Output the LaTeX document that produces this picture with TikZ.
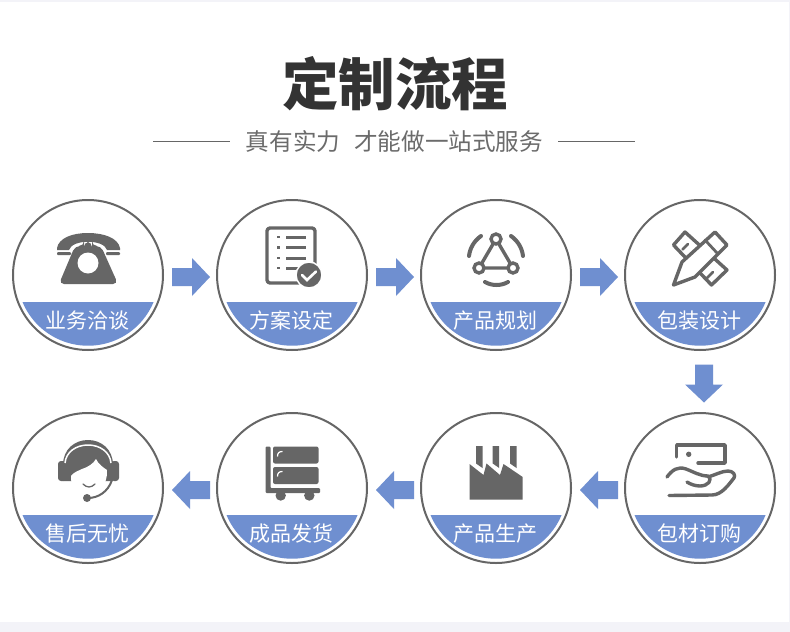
\documentclass[tikz,border=0pt]{standalone}
\usepackage{fontspec}
\setmainfont{Noto Sans CJK SC}
\usetikzlibrary{positioning}
\definecolor{steelblue}{HTML}{6F8FD0}
\definecolor{icongray}{HTML}{666666}
\definecolor{paleband}{HTML}{F3F3F8}
\tikzset{
    ring/.style = {circle, draw = icongray, line width = 2pt, fill = white, minimum size = 150pt, inner sep = 0pt},
    caption/.style = {text = white, font = \fontsize{21}{21}\selectfont, inner sep = 0pt},
    iconline/.style = {draw = icongray, line width = 3.4pt, line cap = round, line join = round}
}
% one step: ring, blue cap and its caption
\newcommand{\stepring}[5]{
    \node[ring] (#1) at (#2, #3) {};
    \fill[steelblue] (#2 - 65.5, #3 + #5) arc[start angle = 202.6, end angle = 337.4, x radius = 71, y radius = -71] -- cycle;
    \node[caption] (#1t) at (#2 - 0.5, #3 + #5 + 18.5) {#4};
}
% block arrow at a centre, turned by an angle
\newcommand{\blockarrow}[3]{
    \fill[steelblue, shift = {(#1, #2)}, rotate = #3] (-19, -9) -- (1, -9) -- (1, -19) -- (19, 0) -- (1, 19) -- (1, 9) -- (-19, 9) -- cycle;
}
\begin{document}
\begin{tikzpicture}[x = 1pt, y = -1pt]
    \useasboundingbox (0, 0) rectangle (790, 632);
    \fill[white] (0, 0) rectangle (790, 632);
    \fill[paleband] (0, 622) rectangle (790, 632);
    \fill[paleband] (0, 0) rectangle (790, 2);
    \fill[paleband] (788.5, 0) rectangle (790, 632);
    % heading
    \node[text = black!80, font = \fontsize{56.5}{56.5}\selectfont\bfseries, inner sep = 0pt] (title) at (395, 84) {定制流程};
    \node[text = black!58, font = \fontsize{23.6}{23.6}\selectfont, inner sep = 0pt] (subtitle) at (394.5, 141) {真有实力\hspace{14pt}才能做一站式服务};
    \coordinate (la) at (153, 141);
    \coordinate (lb) at (230, 141);
    \coordinate (ra) at (558, 141);
    \coordinate (rb) at (635, 141);
    \draw[icongray, line width = 0.9pt] (la) -- (lb);
    \draw[icongray, line width = 0.9pt] (ra) -- (rb);
    % steps
    \stepring{s1}{88}{275}{业务洽谈}{27}
    \stepring{s2}{292}{275}{方案设定}{27}
    \stepring{s3}{496}{275}{产品规划}{27}
    \stepring{s4}{700}{275}{包装设计}{27}
    \stepring{s5}{700}{488}{包材订购}{27}
    \stepring{s6}{496}{488}{产品生产}{27}
    \stepring{s7}{292}{488}{成品发货}{27}
    \stepring{s8}{88}{488}{售后无忧}{27}
    % arrows
    \foreach \x in {191, 395, 599}{
        \blockarrow{\x}{277}{0}
        \blockarrow{\x}{490}{180}
    }
    \blockarrow{704}{383.5}{-90}
    % telephone
    \fill[icongray] (57, 248) .. controls (59, 238) and (72, 233) .. (88, 233) .. controls (104, 233) and (118, 238) .. (120, 248) -- (120, 250) -- (107, 250) .. controls (104, 239) and (72, 239) .. (69, 250) -- (57, 250) -- cycle;
    \fill[icongray, rounded corners = 1pt] (57, 252) rectangle (71, 255);
    \fill[icongray, rounded corners = 1pt] (106, 252) rectangle (120, 255);
    \fill[icongray, rounded corners = 5pt] (84, 246) -- (84, 242) -- (92, 242) -- (92, 246) -- (101, 246) -- (118, 284) -- (59, 284) -- (75, 246) -- cycle;
    \fill[white] (88, 263) circle[radius = 10.5];
    % document
    \draw[iconline, rounded corners = 3pt] (267, 228) rectangle (315, 283);
    \foreach \y in {237, 247.5, 258}{
        \fill[icongray] (276.5, \y - 1.2) rectangle (280, \y + 1.2);
        \fill[icongray] (286, \y - 1.5) rectangle (306, \y + 1.5);
    }
    \fill[icongray] (276.5, 266.8) rectangle (280, 269.2);
    \fill[icongray] (286, 266.5) rectangle (300, 269.5);
    \fill[icongray, draw = white, line width = 1.5pt] (309, 275) circle[radius = 13];
    \draw[white, line width = 2.6pt, line cap = round] (302, 275) -- (307, 280) -- (316, 271.5);
    % network
    \draw[iconline] (496, 239) -- (479, 268) -- (513, 268) -- cycle;
    \foreach \x/\y in {496/239, 479/268, 513/268}{
        \draw[icongray, fill = white, line width = 3.4pt] (\x, \y) circle[radius = 5];
    }
    \draw[iconline, line width = 4pt] (469, 256) .. controls (470, 248) and (474, 241) .. (481, 236);
    \draw[iconline, line width = 4pt] (523, 256) .. controls (522, 248) and (518, 241) .. (511, 236);
    \draw[iconline, line width = 4pt] (485, 282) .. controls (492, 286) and (501, 286) .. (508, 282);
    % ruler and pencil
    \draw[iconline, fill = white] (685, 232) -- (673.5, 245) -- (711.5, 285) -- (727, 270) -- cycle;
    \draw[iconline, line width = 2.8pt] (682.5, 249.5) -- (688, 244);
    \draw[iconline, line width = 2.8pt] (707, 278) -- (713, 272);
    \draw[iconline, fill = white] (715, 232) -- (727, 245) -- (695, 277) -- (673.5, 285) -- (682, 262) -- cycle;
    \draw[iconline, line width = 2.8pt] (705, 240) -- (718, 254);
    % card and hand
    \draw[iconline] (676.7, 457) -- (676.7, 445) -- (725, 445) -- (725, 463) -- (698, 463);
    \fill[icongray] (688.7, 454.3) circle[radius = 2.7];
    \draw[iconline] (667, 477) .. controls (672, 470) and (678, 466) .. (686, 469) .. controls (694, 472) and (700, 476) .. (708, 476) .. controls (713, 480) and (708, 486) .. (700, 486) .. controls (695, 486) and (690, 484) .. (687, 482);
    \draw[iconline] (708, 477) .. controls (715, 475) and (722, 471) .. (728, 471) .. controls (733, 471) and (736, 475) .. (734, 478) .. controls (729, 484) and (722, 495) .. (712, 495) -- (669, 495.5);
    % factory
    \fill[icongray] (469.5, 464) -- (483.5, 475) -- (486.5, 463.5) -- (500, 475) -- (503.5, 464) -- (522.7, 477) -- (522.7, 499.5) -- (469.5, 499.5) -- cycle;
    \foreach \x in {476, 492.7, 510}{
        \fill[icongray] (\x, 446) -- (\x + 6.5, 446) -- (\x + 6.5, 468) -- (\x, 463.5) -- cycle;
    }
    % cart
    \fill[icongray, rounded corners = 1pt] (265.7, 446.5) -- (270.5, 446.5) -- (270.5, 488) -- (320, 488) -- (320, 493) -- (265.7, 493) -- cycle;
    \fill[icongray, rounded corners = 2pt] (273, 446.5) rectangle (318.5, 463.5);
    \fill[icongray, rounded corners = 2pt] (273, 467) rectangle (318.5, 484);
    \fill[icongray] (280.7, 495.5) circle[radius = 5.2];
    \fill[icongray] (309.3, 495.5) circle[radius = 5.2];
    \draw[white, line width = 1.2pt] (277.5, 456.5) .. controls (277.5, 453) and (279, 451.5) .. (282.5, 451.5);
    \draw[white, line width = 1.2pt] (277.5, 476.5) .. controls (277.5, 473) and (279, 471.5) .. (282.5, 471.5);
    % headset
    \fill[icongray] (63, 481) -- (63, 465) .. controls (63, 449) and (75, 440) .. (88, 440) .. controls (101, 440) and (113, 449) .. (113, 465) -- (113, 481) -- cycle;
    \fill[icongray, rounded corners = 3pt] (58, 461) rectangle (66, 481);
    \fill[icongray, rounded corners = 3pt] (111, 461) rectangle (119, 481);
    \draw[white, line width = 1.5pt] (65, 463) .. controls (66, 452) and (76, 445) .. (88, 445) .. controls (100, 445) and (110, 452) .. (111, 463);
    \fill[white] (71, 476) .. controls (74, 472) and (78, 471) .. (82, 469) .. controls (88, 467) and (93, 464) .. (96, 459) .. controls (98, 464) and (104, 468) .. (107, 470) .. controls (108, 485) and (98, 494) .. (88, 494) .. controls (78, 494) and (70, 486) .. (71, 476) -- cycle;
    \draw[icongray, line width = 1.3pt, line cap = round] (83, 484) .. controls (87, 488) and (91, 488) .. (95, 484);
    \draw[icongray, line width = 2pt] (88, 498) .. controls (98, 498) and (108, 492) .. (112, 480);
    \fill[icongray] (87, 498) circle[radius = 4];
\end{tikzpicture}
\end{document}
